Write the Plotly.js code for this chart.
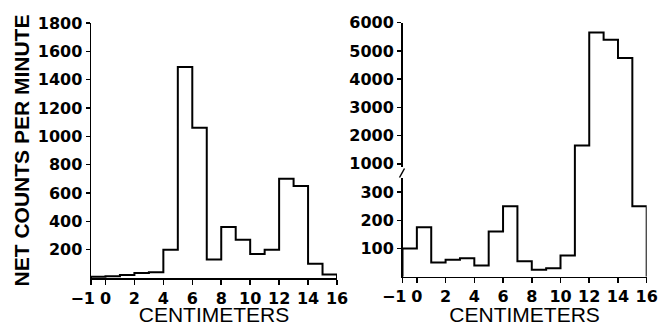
<!DOCTYPE html>
<html>
<head>
<meta charset="utf-8">
<script src="https://cdn.plot.ly/plotly-3.0.1.min.js"></script>
<style>html,body{margin:0;padding:0;background:#fff;}#chart{width:659px;height:326px;}</style>
</head>
<body>
<div id="chart"></div>
<script>
// Bin start positions (cm), each bin 1 cm wide
const binStarts = [-1,0,1,2,3,4,5,6,7,8,9,10,11,12,13,14,15];
// Left panel: net counts per minute
const leftCounts = [8,12,22,35,40,200,1490,1060,130,360,270,170,200,700,650,100,25];
// Right panel: net counts per minute (broken axis)
const rightCounts = [100,175,50,60,65,40,160,250,55,25,30,75,1650,5650,5400,4750,250];
// Tick labels
const xTickVals = [-1,0,2,4,6,8,10,12,14,16];
const xTickText = ['\u22121\u00a0\u00a0\u00a0','0','2','4','6','8','10','12','14','16'];
const leftYTicks = [200,400,600,800,1000,1200,1400,1600,1800];
const rightLowTicks = [100,200,300];
const rightHighTicks = [1000,2000,3000,4000,5000,6000];

const W = 659, H = 326;
const px = v => v / W;
const py = v => (H - v) / H;
const bold = arr => arr.map(t => '<b>' + t + '</b>');

const stepX = [binStarts[0], ...binStarts, binStarts[binStarts.length-1] + 1];
const stepL = [0, ...leftCounts, 0];
const stepR = [0, ...rightCounts, 0];

const lineStyle = {color:'#000', width:2, shape:'hv'};
const traces = [
  {x: stepX, y: stepL, xaxis:'x', yaxis:'y', mode:'lines', line: lineStyle, hoverinfo:'skip'},
  {x: stepX, y: stepR, xaxis:'x2', yaxis:'y2', mode:'lines', line: lineStyle, hoverinfo:'skip'},
  {x: stepX, y: stepR, xaxis:'x2', yaxis:'y3', mode:'lines', line: lineStyle, hoverinfo:'skip'}
];

const FAM = 'Liberation Sans, Arial, sans-serif';
const TICKFAM = 'DejaVu Sans, Verdana, sans-serif';
const tickFont = () => ({family:TICKFAM, size:16, color:'#000'});
const titleFontX = {family:FAM, size:21, color:'#000'};
const titleFontY = {family:FAM, size:21, color:'#000'};

function xAxis(domain, anchor) {
  return {
    domain:domain, anchor:anchor,
    range:[-1,16], showline:true, linecolor:'#000', linewidth:1.5,
    ticks:'outside', ticklen:5, tickwidth:1.5, tickcolor:'#000', tickangle:0,
    tickvals:xTickVals, ticktext:bold(xTickText), tickfont:tickFont(),
    showgrid:false, zeroline:false, fixedrange:true,
    title:{text:'CENTIMETERS', font:titleFontX, standoff:7}
  };
}
function yAxis(domain, range, tickvals, anchor) {
  return {
    domain:domain, anchor:anchor, range:range,
    tickvals:tickvals, ticktext:bold(tickvals.map(String)),
    showline:true, linecolor:'#000', linewidth:1.5,
    ticks:'outside', ticklen:4, tickwidth:1.5, tickcolor:'#000',
    tickfont:tickFont(),
    showgrid:false, zeroline:false, fixedrange:true
  };
}

const yLeft = yAxis([py(278), py(23)], [0,1800], leftYTicks, 'x');
yLeft.title = {text:'<b>NET COUNTS PER MINUTE</b>', font:titleFontY, standoff:2};
const yLow = yAxis([py(276.7), py(178)], [0,350], rightLowTicks, 'x2');
const yHigh = yAxis([py(178), py(22.7)], [500,6000], rightHighTicks, 'x2');

const layout = {
  width:W, height:H, margin:{l:0,r:0,t:0,b:0},
  font:{family:FAM, size:17, color:'#000'},
  paper_bgcolor:'#fff', plot_bgcolor:'#fff', showlegend:false,
  xaxis: xAxis([px(91), px(337)], 'y'),
  yaxis: yLeft,
  xaxis2: xAxis([px(402.5), px(646.7)], 'y2'),
  yaxis2: yLow,
  yaxis3: yHigh,
  shapes: [
    {type:'rect', xref:'paper', yref:'paper', x0:px(399), x1:px(405), y0:py(178), y1:py(167),
     fillcolor:'#fff', line:{width:0}},
    {type:'line', xref:'paper', yref:'paper', x0:px(399.5), y0:py(177.5), x1:px(404.5), y1:py(168.5),
     line:{color:'#000', width:1.5}}
  ]
};

Plotly.newPlot('chart', traces, layout, {staticPlot:true, displayModeBar:false});
</script>
</body>
</html>
